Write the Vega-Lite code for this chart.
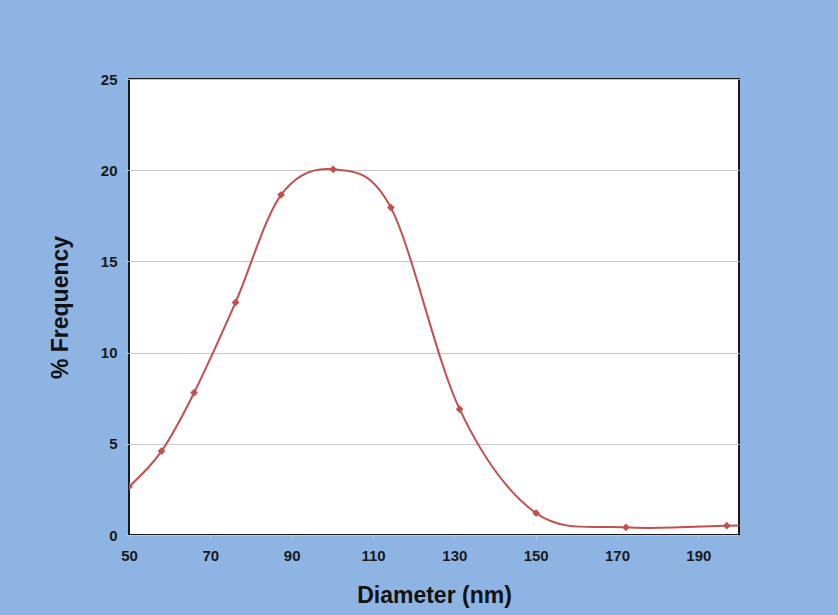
{
  "$schema": "https://vega.github.io/schema/vega-lite/v6.json",
  "width": 610,
  "height": 456,
  "autosize": "none",
  "padding": {"left": 129, "top": 79, "right": 99, "bottom": 80},
  "background": "#8EB4E3",
  "config": {
    "view": {"fill": "white", "stroke": "#1a1a1a", "strokeWidth": 2},
    "font": "Liberation Sans",
    "axis": {
      "labelFont": "Liberation Sans",
      "labelFontWeight": "bold",
      "labelFontSize": 15,
      "labelColor": "#1a1a1a",
      "titleFont": "Liberation Sans",
      "titleFontWeight": "bold",
      "titleFontSize": 23,
      "titleColor": "#111111",
      "domain": false,
      "tickColor": "#c8c8c8",
      "tickSize": 4,
      "gridColor": "#c8c8c8",
      "gridWidth": 1.2
    }
  },
  "data": {
    "values": [
      {"d": 50, "f": 2.65},
      {"d": 58, "f": 4.6},
      {"d": 66, "f": 7.8},
      {"d": 76.2, "f": 12.75},
      {"d": 87.4, "f": 18.65},
      {"d": 100.2, "f": 20.05},
      {"d": 114.4, "f": 17.95},
      {"d": 131.3, "f": 6.9},
      {"d": 150.1, "f": 1.2},
      {"d": 172.2, "f": 0.42},
      {"d": 197, "f": 0.51},
      {"d": 206, "f": 0.56}
    ]
  },
  "encoding": {
    "x": {
      "field": "d",
      "type": "quantitative",
      "scale": {"domain": [50, 200], "nice": false, "zero": false},
      "axis": {"values": [50, 70, 90, 110, 130, 150, 170, 190], "grid": false, "labelFlush": false, "labelPadding": 9, "title": "Diameter (nm)", "titleBaseline": "middle", "titleY": 60}
    },
    "y": {
      "field": "f",
      "type": "quantitative",
      "scale": {"domain": [0, 25], "nice": false},
      "axis": {"values": [0, 5, 10, 15, 20, 25], "grid": true, "labelPadding": 8, "title": "% Frequency", "titleX": -57}
    }
  },
  "layer": [
    {
      "mark": {"type": "line", "interpolate": "cardinal", "tension": 0, "color": "#C0504D", "strokeWidth": 2, "clip": true}
    },
    {
      "mark": {"type": "point", "shape": "diamond", "filled": true, "color": "#C0504D", "size": 60, "opacity": 1, "clip": true}
    }
  ]
}
